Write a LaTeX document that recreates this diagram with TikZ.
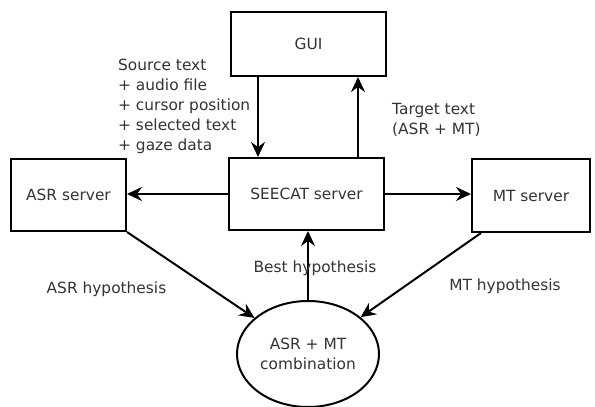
\documentclass[tikz,border=0pt]{standalone}
\usepackage{fontspec}
\setmainfont{DejaVu Sans}
\usetikzlibrary{arrows.meta,shapes.geometric,calc}
\begin{document}
\begin{tikzpicture}[x=1pt,y=1pt,
  font=\fontsize{15.4}{20}\selectfont,
  txt/.style={text=black!80,inner sep=0pt},
  boxnode/.style={draw,line width=2pt,inner sep=0pt,text=black!80},
  conn/.style={line width=2pt,-{Stealth[length=15pt,width=14pt,inset=5pt]}}]
\useasboundingbox (0,0) rectangle (595,-407);
\node[boxnode,minimum width=155pt,minimum height=64pt] (gui) at (308.5,-44) {GUI};
\node[boxnode,minimum width=155pt,minimum height=72pt] (seecat) at (306.5,-194) {SEECAT server};
\node[boxnode,minimum width=115pt,minimum height=72pt] (asr) at (68.5,-195) {ASR server};
\node[boxnode,minimum width=118pt,minimum height=73pt] (mt) at (531,-195.5) {MT server};
\node[ellipse,draw,line width=2pt,minimum width=142pt,minimum height=106pt,inner sep=0pt,align=center,text=black!80] (comb) at (308,-354) {ASR + MT\\combination};
\coordinate (guiL) at ($(gui.south west)+(28,0)$);
\coordinate (guiR) at ($(gui.south west)+(128,0)$);
\coordinate (mtS) at ($(mt.south west)+(10,0)$);
\draw[conn] (guiL) -- (guiL |- seecat.north);
\draw[conn] (guiR |- seecat.north) -- (guiR);
\draw[conn] (seecat.west) -- (seecat.west -| asr.east);
\draw[conn] (seecat.east) -- (seecat.east -| mt.west);
\draw[conn] (asr.south east) -- (comb);
\draw[conn] (mtS) -- (comb);
\draw[conn] (comb.north) -- (comb.north |- seecat.south);
\node[txt,align=left,anchor=west] (src) at (118,-106) {Source text\\+ audio file\\+ cursor position\\+ selected text\\+ gaze data};
\node[txt,align=left,anchor=west] (tgt) at (392,-120) {Target text\\(ASR + MT)};
\node[txt] (best) at (315,-268) {Best hypothesis};
\node[txt] (asrh) at (106.5,-289) {ASR hypothesis};
\node[txt] (mth) at (505,-286) {MT hypothesis};
\end{tikzpicture}
\end{document}
